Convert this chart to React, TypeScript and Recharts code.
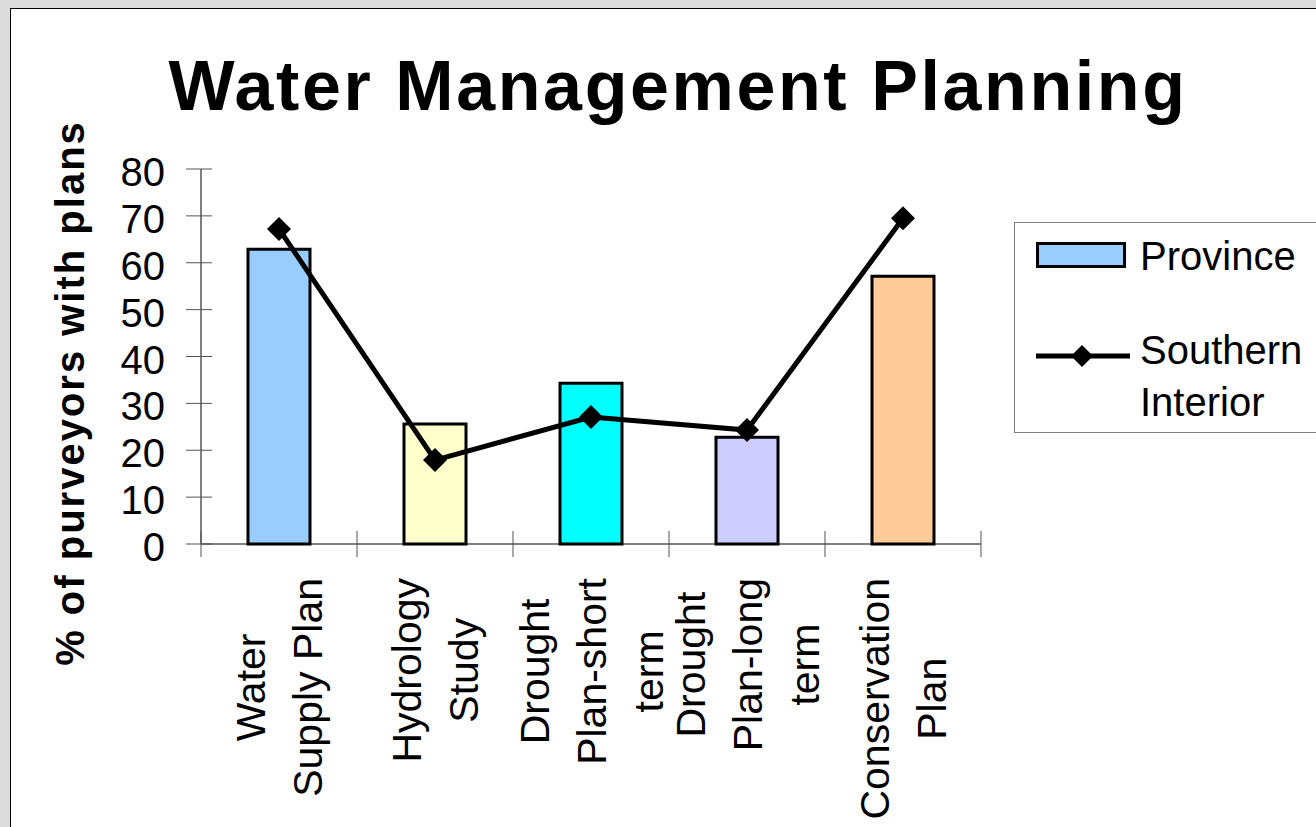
import React from 'react';
import { ComposedChart, Bar, Line, XAxis, YAxis, Legend, Cell } from 'recharts';

const categories = [
  'Water\nSupply Plan',
  'Hydrology\nStudy',
  'Drought\nPlan-short\nterm',
  'Drought\nPlan-long\nterm',
  'Conservation\nPlan',
];
const provinceValues = [62.9, 25.6, 34.3, 22.8, 57.1];
const southernInteriorValues = [67.2, 17.9, 27.1, 24.3, 69.5];
const yTicks = [0, 10, 20, 30, 40, 50, 60, 70, 80];
const barColors = ['#99CCFF', '#FFFFCC', '#00FFFF', '#CCCCFF', '#FFCC99'];

const data = categories.map((name, i) => ({
  name,
  province: provinceValues[i],
  southern: southernInteriorValues[i],
}));

const FONT = "'Liberation Sans', Arial, sans-serif";
const W = 1316;
const H = 827;
const PLOT_LEFT = 201;
const PLOT_RIGHT = 981;
const PLOT_TOP = 169;
const PLOT_BOTTOM = 544;
const YAXIS_W = 60;

let ctx: CanvasRenderingContext2D | null = null;
function measure(text: string, size: number) {
  if (!ctx) ctx = document.createElement('canvas').getContext('2d');
  if (!ctx) return text.length * size * 0.5;
  ctx.font = `${size}px ${FONT}`;
  return ctx.measureText(text).width;
}

function YTick({ x, y, payload }: any) {
  return (
    <g>
      <line x1={x - 15} x2={x + 11} y1={y} y2={y} stroke="#555" strokeWidth={1} />
      <text x={x - 36} y={y + 3} textAnchor="end" dominantBaseline="central"
        fontSize={40} fontFamily={FONT} fill="#000">
        {payload.value}
      </text>
    </g>
  );
}

function XTick({ x, y, payload }: any) {
  const half = (PLOT_RIGHT - PLOT_LEFT) / categories.length / 2;
  const lines = String(payload.value).split('\n');
  const maxW = Math.max(...lines.map((l) => measure(l, 41)));
  const cy = y + 34 + maxW / 2;
  const n = lines.length;
  const isLast = payload.value === categories[categories.length - 1];
  return (
    <g>
      <line x1={x - half} x2={x - half} y1={y - 13} y2={y + 13} stroke="#555" />
      {isLast && <line x1={x + half} x2={x + half} y1={y - 13} y2={y + 13} stroke="#555" />}
      <g transform={`translate(${x},${cy}) rotate(-90)`}>
        {lines.map((l, i) => (
          <text key={i} x={0} y={(i - (n - 1) / 2) * 57 + 14.7} textAnchor="middle"
            fontSize={41} fontFamily={FONT} fill="#000">
            {l}
          </text>
        ))}
      </g>
    </g>
  );
}

function Diamond({ cx, cy }: any) {
  if (cx == null || cy == null) return null;
  const r = 12;
  return <polygon points={`${cx},${cy - r} ${cx + r},${cy} ${cx},${cy + r} ${cx - r},${cy}`} fill="#000" />;
}

function LegendBox() {
  return (
    <div style={{
      position: 'relative', width: 330, height: 211, border: '1px solid #808080',
      background: '#fff', fontFamily: FONT, fontSize: 40, color: '#000', boxSizing: 'border-box',
    }}>
      <div style={{
        position: 'absolute', left: 21, top: 19, width: 84, height: 20,
        border: '3px solid #000', background: barColors[0],
      }} />
      <div style={{ position: 'absolute', left: 125, top: 10, lineHeight: '46px', whiteSpace: 'nowrap' }}>
        Province
      </div>
      <svg style={{ position: 'absolute', left: 21, top: 120 }} width={94} height={26}>
        <line x1={0} x2={94} y1={13} y2={13} stroke="#000" strokeWidth={5} />
        <polygon points="46,2 57,13 46,24 35,13" fill="#000" />
      </svg>
      <div style={{ position: 'absolute', left: 125, top: 101, lineHeight: '52px', whiteSpace: 'nowrap' }}>
        Southern<br />Interior
      </div>
    </div>
  );
}

export default function App() {
  return (
    <div style={{ position: 'absolute', left: 0, top: 0, width: W, height: H, background: '#dcdcdc', overflow: 'hidden' }}>
      <div style={{
        position: 'absolute', left: 10, top: 8, width: W, height: H,
        background: '#fff', borderLeft: '1px solid #000', borderTop: '1px solid #000',
      }} />
      <div style={{ position: 'absolute', left: 0, top: 0 }}>
        <ComposedChart width={W} height={H} data={data}
          margin={{ top: PLOT_TOP, right: W - PLOT_RIGHT, bottom: 0, left: PLOT_LEFT - YAXIS_W }}>
          <text x={678} y={110} textAnchor="middle" fontSize={70} fontWeight="bold"
            fontFamily={FONT} letterSpacing={2.6} fill="#000">
            Water Management Planning
          </text>
          <text transform="translate(84,393) rotate(-90)" textAnchor="middle" fontSize={40}
            fontWeight="bold" fontFamily={FONT} letterSpacing={2} fill="#000">
            % of purveyors with plans
          </text>
          <XAxis dataKey="name" interval={0} height={H - PLOT_BOTTOM} tickLine={false}
            tickSize={0} tickMargin={0} axisLine={{ stroke: '#000', strokeWidth: 1 }} tick={<XTick />} />
          <YAxis domain={[0, 80]} ticks={yTicks} width={YAXIS_W} tickLine={false}
            tickSize={0} tickMargin={0} axisLine={{ stroke: '#000', strokeWidth: 1 }} tick={<YTick />} />
          <Legend layout="vertical" align="center" verticalAlign="middle"
            wrapperStyle={{ left: 1014, top: 222, width: 330 }} content={() => <LegendBox />} />
          <Bar dataKey="province" name="Province" barSize={62} stroke="#000" strokeWidth={3}
            isAnimationActive={false}>
            {data.map((d, i) => <Cell key={d.name} fill={barColors[i]} />)}
          </Bar>
          <Line type="linear" dataKey="southern" name="Southern Interior" stroke="#000" strokeWidth={5}
            dot={<Diamond />} activeDot={false} isAnimationActive={false} />
        </ComposedChart>
      </div>
    </div>
  );
}
